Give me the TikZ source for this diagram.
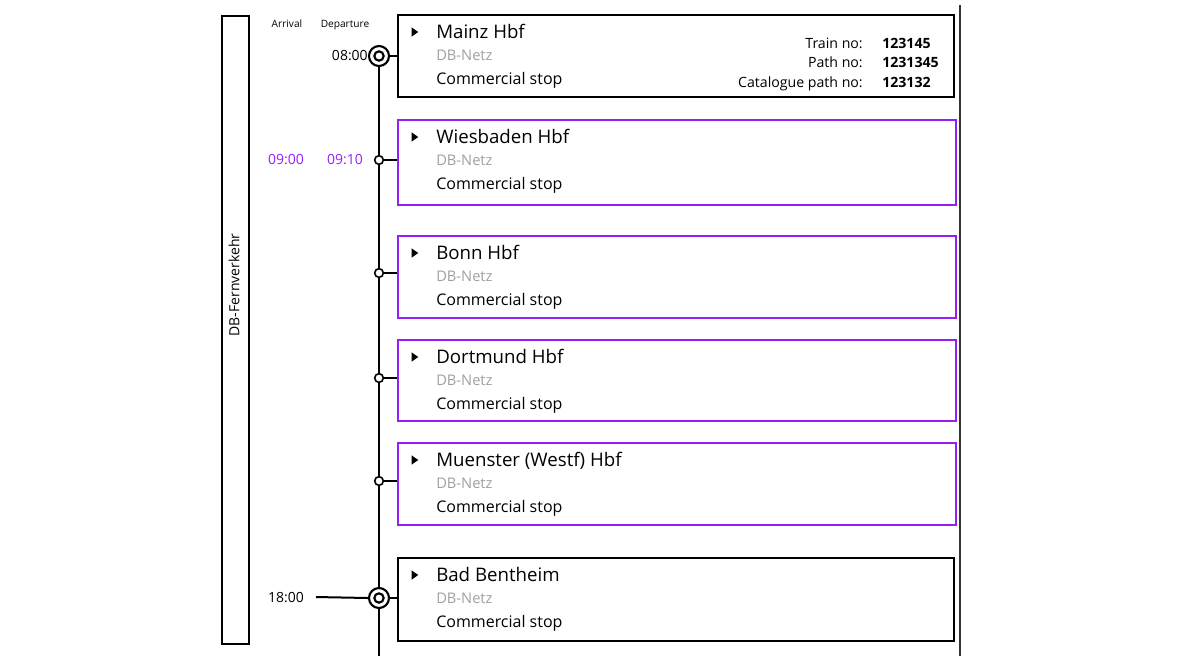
\documentclass[tikz,border=0pt]{standalone}
\usepackage{fontspec}
\setmainfont{Open Sans}
\definecolor{vio}{RGB}{150,30,250}
\definecolor{netz}{RGB}{160,160,160}
\newcommand\station[6]{%
  % #1 name, #2 top y, #3 height(pt), #4 width(pt), #5 colour, #6 title
  \node[box, draw=#5, minimum width=#4, minimum height=#3] (#1) at (397,#2) {};
  \node[tri] (#1-tri) at (414,#2+18) {};
  \node[title] (#1-t) at (436,#2+24) {#6};
  \node[netzt] (#1-n) at (436,#2+46) {DB-Netz};
  \node[stop] (#1-s) at (436,#2+70) {Commercial stop};
}
\tikzset{
  x=0.75pt, y=-0.75pt,
  box/.style={rectangle, anchor=north west, line width=1.7pt, inner sep=0pt},
  tri/.style={isosceles triangle, fill=black, inner sep=0pt, minimum width=6pt, minimum height=5pt, isosceles triangle apex angle=70},
  title/.style={anchor=base west, inner sep=0pt, font=\fontsize{14}{16}\selectfont},
  netzt/.style={anchor=base west, inner sep=0pt, text=netz, font=\fontsize{11}{13}\selectfont},
  stop/.style={anchor=base west, inner sep=0pt, font=\fontsize{12}{14}\selectfont},
  lab/.style={anchor=base east, inner sep=0pt, font=\fontsize{10.6}{12}\selectfont},
  val/.style={anchor=base west, inner sep=0pt, font=\bfseries\fontsize{10.6}{12}\selectfont},
  hdr/.style={inner sep=0pt, font=\fontsize{7.6}{9}\selectfont},
  tm/.style={inner sep=0pt, font=\fontsize{10.5}{12}\selectfont},
  small/.style={circle, draw, line width=1.2pt, fill=white, minimum size=6.5pt, inner sep=0pt},
  big/.style={circle, draw, line width=1.6pt, fill=white, minimum size=15pt, inner sep=0pt},
  inner/.style={circle, draw, line width=1.6pt, minimum size=7pt, inner sep=0pt},
  tl/.style={line width=1.5pt},
}
\usetikzlibrary{shapes.geometric}
\begin{document}
\begin{tikzpicture}
\useasboundingbox (0,0) rectangle (1177,662);
% left bar
\node[draw, line width=1.7pt, anchor=north west, minimum width=20.25pt, minimum height=471pt, inner sep=0pt] (bar) at (221,15) {};
\node[rotate=90, inner sep=0pt, font=\fontsize{10.5}{12}\selectfont] (barlab) at (234,285) {DB-Fernverkehr};
% headers
\node[hdr] (arr) at (287,24) {Arrival};
\node[hdr] (dep) at (345,25) {Departure};
% right line
\coordinate (rtop) at (960,5);
\coordinate (rbot) at (960,656);
\draw[line width=0.9pt, black!80] (rtop) -- (rbot);
% boxes
\station{mainz}{14}{61.5pt}{417pt}{black}{Mainz Hbf}
\station{wies}{119}{63.75pt}{418.5pt}{vio}{Wiesbaden Hbf}
\station{bonn}{235}{61.5pt}{418.5pt}{vio}{Bonn Hbf}
\station{dort}{339}{60.75pt}{418.5pt}{vio}{Dortmund Hbf}
\station{muen}{442}{61.5pt}{418.5pt}{vio}{Muenster (Westf) Hbf}
\station{bent}{557}{62.25pt}{417pt}{black}{Bad Bentheim}
% train info
\node[lab] (l1) at (863,48) {Train no:};
\node[lab] (l2) at (863,67) {Path no:};
\node[lab] (l3) at (863,87) {Catalogue path no:};
\node[val] (v1) at (882,48) {123145};
\node[val] (v2) at (882,67) {1231345};
\node[val] (v3) at (882,87) {123132};
% timeline
\coordinate (tlend) at (379,656);
\node[big] (c1) at (379,56) {};
\node[small] (c2) at (379,160) {};
\node[small] (c3) at (379,273) {};
\node[small] (c4) at (379,378) {};
\node[small] (c5) at (379,481) {};
\node[big] (c6) at (379,598) {};
\draw[tl] (c1) -- (c2) -- (c3) -- (c4) -- (c5) -- (c6) -- (tlend);
\node[inner] (c1i) at (c1) {};
\node[inner] (c6i) at (c6) {};
\draw[tl] (c1.east) -- (mainz.west |- c1.east);
\draw[tl] (c2.east) -- (wies.west |- c2.east);
\draw[tl] (c3.east) -- (bonn.west |- c3.east);
\draw[tl] (c4.east) -- (dort.west |- c4.east);
\draw[tl] (c5.east) -- (muen.west |- c5.east);
\draw[tl] (c6.east) -- (bent.west |- c6.east);
% times
\node[tm, anchor=east] (t1) at (368,56) {08:00};
\node[tm, text=vio] (t2a) at (286,160) {09:00};
\node[tm, text=vio] (t2d) at (345,160) {09:10};
\node[tm] (t6) at (286,598) {18:00};
\coordinate (t6l) at (316,597);
\draw[tl] (t6l) -- (c6.west);
\end{tikzpicture}
\end{document}
